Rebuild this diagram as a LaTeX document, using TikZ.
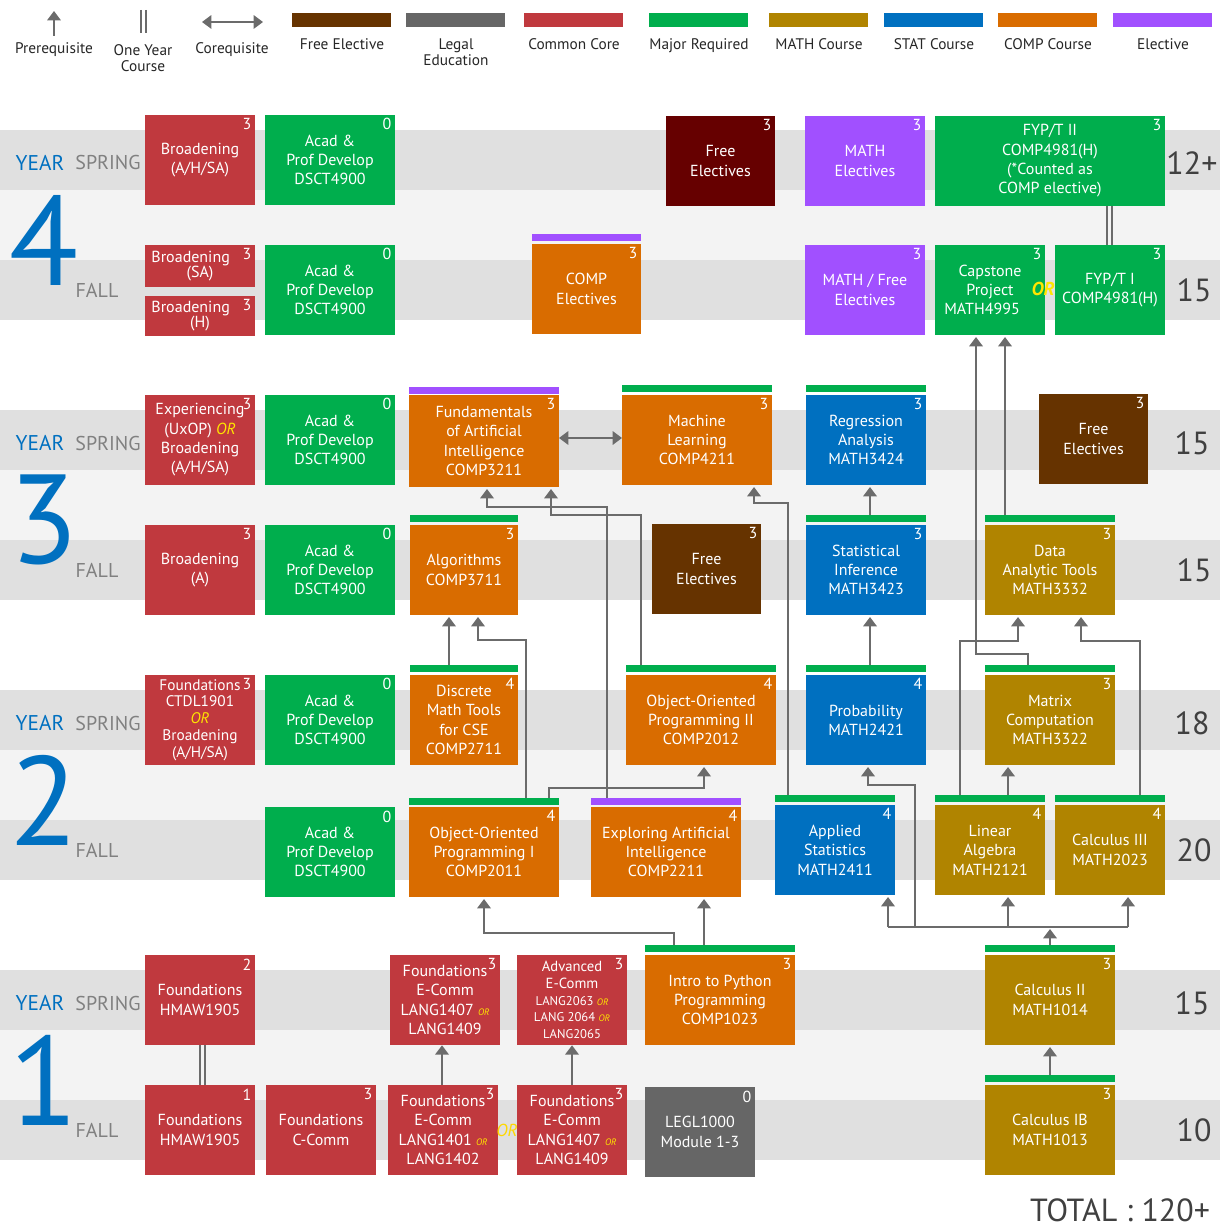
\documentclass[tikz,border=0pt]{standalone}
\usepackage{fontspec}
\setmainfont{PT Sans}
\usetikzlibrary{arrows.meta}
\definecolor{cred}{HTML}{C0393E}
\definecolor{cgreen}{HTML}{00AE4D}
\definecolor{corange}{HTML}{D96C00}
\definecolor{cblue}{HTML}{0070C0}
\definecolor{cgold}{HTML}{B08400}
\definecolor{cbrown}{HTML}{663300}
\definecolor{cdred}{HTML}{660000}
\definecolor{cpurple}{HTML}{A150FF}
\definecolor{cgray}{HTML}{666666}
\definecolor{cline}{HTML}{6B6B6B}
\definecolor{ory}{HTML}{FFE600}
\definecolor{bglight}{HTML}{F3F3F3}
\definecolor{bgdark}{HTML}{E0E0E0}
\newcommand\orr{{\color{ory}\itshape OR}}
\newcommand\sor{{\color{ory}\itshape\fontsize{7}{8}\selectfont OR}}
\newcommand\bx[8]{%
 \node[box,fill=#6,minimum width={(#4-#2)*0.75pt},minimum height={(#5-#3)*0.75pt},fnt #1/.try] (#1) at ({(#2+#4)/2},{(#3+#5)/2}) {#8};
 \node[num] (#1n) at (#4,#3) {#7};}
\newcommand\tbar[4]{\fill[#4] (#1,#3) rectangle (#2,{#3+7});}
\tikzset{
 box/.style={inner sep=0pt,text=white,align=center,font=\fontsize{12}{14.5}\selectfont},
 fnt fc/.style={font=\fontsize{11.5}{12.6}\selectfont},
 fnt adv/.style={font=\fontsize{11}{12.6}\selectfont},
 num/.style={anchor=north east,inner sep=2.5pt,text=white,font=\fontsize{12}{12}\selectfont},
 pre/.style={draw=cline,line width=2pt,-{Triangle[width=10pt,length=7pt]}},
 co/.style={draw=cline,line width=2pt,{Triangle[width=10pt,length=7pt]}-{Triangle[width=10pt,length=7pt]}},
 ln/.style={draw=cline,line width=2pt},
 leg/.style={font=\fontsize{11.5}{14}\selectfont,text=black!85,align=center},
 yr/.style={text=cblue,font=\fontsize{16}{16}\selectfont},
 sem/.style={text=black!50,font=\fontsize{15}{15}\selectfont},
 dig/.style={text=cblue,font=\fontsize{95}{95}\selectfont},
 tot/.style={text=black!75,font=\fontsize{24}{24}\selectfont},
}
\begin{document}
\begin{tikzpicture}[x=0.75pt,y=-0.75pt]
\useasboundingbox (0,0) rectangle (1220,1230);
% background bands
\foreach \t/\d/\a/\b in {130/4/12+/15,410/3/15/15,690/2/18/20,970/1/15/10}{
 \fill[bglight] (0,\t) rectangle (1220,{\t+190});
 \fill[bgdark] (0,\t) rectangle (1220,{\t+60});
 \fill[bgdark] (0,{\t+130}) rectangle (1220,{\t+190});
 \node[yr] at (40,{\t+33}) {YEAR};
 \node[sem] at (108,{\t+33}) {SPRING};
 \node[sem] at (97,{\t+160}) {FALL};
 \node[dig] at (44,{\t+110}) {\d};
 \node[tot] at (1192,{\t+33}) {\a};
 \node[tot] at (1194,{\t+160}) {\b};
}
\node[tot] (total) at (1120,1210) {TOTAL : 120+};
% legend
\coordinate (lp1) at (54,36); \coordinate (lp2) at (54,11);
\draw[pre,line width=1.5pt] (lp1) -- (lp2);
\node[leg] (l1) at (54,50) {Prerequisite};
\draw[cline,line width=1.5pt] (141,10) -- (141,33) (146,10) -- (146,33);
\node[leg] (l2) at (143,58) {One Year\\[-2pt]Course};
\coordinate (lc1) at (202,22); \coordinate (lc2) at (263,22);
\draw[co,line width=1.5pt] (lc1) -- (lc2);
\node[leg] (l3) at (232,50) {Corequisite};
\foreach \x/\c/\t in {292/cbrown/Free Elective,406/cgray/{Legal\\[-2pt]Education},524/cred/Common Core,649/cgreen/Major Required,769/cgold/MATH Course,884/cblue/STAT Course,998/corange/COMP Course,1113/cpurple/Elective}{
 \fill[\c] (\x,13) rectangle ({\x+99},27);
 \node[leg,anchor=north] at ({\x+50},34) {\t};
}
% Year 4
\bx{b4s}{145}{115}{255}{205}{cred}{3}{Broadening\\(A/H/SA)}
\bx{a4s}{265}{115}{395}{205}{cgreen}{0}{Acad \&\\Prof Develop\\DSCT4900}
\bx{fe4}{666}{116}{775}{206}{cdred}{3}{Free\\Electives}
\bx{me4}{805}{116}{925}{206}{cpurple}{3}{MATH\\Electives}
\bx{fyp2}{935}{116}{1165}{206}{cgreen}{3}{FYP/T II\\COMP4981(H)\\(*Counted as\\COMP elective)}
\bx{bsa}{145}{245}{255}{287}{cred}{3}{\hspace*{-14pt}Broadening\\[-3pt](SA)}
\bx{bh}{145}{296}{255}{336}{cred}{3}{\hspace*{-14pt}Broadening\\[-3pt](H)}
\bx{a4f}{265}{245}{395}{335}{cgreen}{0}{Acad \&\\Prof Develop\\DSCT4900}
\tbar{532}{641}{234}{cpurple}
\bx{ce}{532}{244}{641}{334}{corange}{3}{COMP\\Electives}
\bx{mf}{805}{245}{925}{335}{cpurple}{3}{MATH / Free\\Electives}
\bx{cap}{935}{245}{1045}{335}{cgreen}{3}{Capstone\\Project\\MATH4995\hspace*{12pt}}
\bx{fyp1}{1055}{245}{1165}{335}{cgreen}{3}{FYP/T I\\COMP4981(H)}
\node[text=ory,font=\fontsize{14}{14}\selectfont\itshape\bfseries] (orcap) at (1043,289) {OR};
% Year 3
\bx{exp}{145}{395}{255}{485}{cred}{3}{Experiencing\\(UxOP) \orr\\Broadening\\(A/H/SA)}
\bx{a3s}{265}{395}{395}{485}{cgreen}{0}{Acad \&\\Prof Develop\\DSCT4900}
\tbar{409}{559}{387}{cpurple}
\bx{fai}{409}{395}{559}{487}{corange}{3}{Fundamentals\\of Artificial\\Intelligence\\COMP3211}
\tbar{622}{772}{385}{cgreen}
\bx{ml}{622}{395}{772}{485}{corange}{3}{Machine\\Learning\\COMP4211}
\tbar{806}{926}{385}{cgreen}
\bx{reg}{806}{395}{926}{485}{cblue}{3}{Regression\\Analysis\\MATH3424}
\bx{fe3}{1039}{394}{1148}{484}{cbrown}{3}{Free\\Electives}
\bx{ba}{145}{525}{255}{615}{cred}{3}{Broadening\\(A)}
\bx{a3f}{265}{525}{395}{615}{cgreen}{0}{Acad \&\\Prof Develop\\DSCT4900}
\tbar{410}{518}{515}{cgreen}
\bx{alg}{410}{525}{518}{615}{corange}{3}{Algorithms\\COMP3711}
\bx{fe3f}{652}{524}{761}{614}{cbrown}{3}{Free\\Electives}
\tbar{806}{926}{515}{cgreen}
\bx{si}{806}{525}{926}{615}{cblue}{3}{Statistical\\Inference\\MATH3423}
\tbar{985}{1115}{515}{cgreen}
\bx{dat}{985}{525}{1115}{615}{cgold}{3}{Data\\Analytic Tools\\MATH3332}
% Year 2
\bx{fc}{145}{675}{255}{765}{cred}{3}{Foundations\\CTDL1901\\\orr\\Broadening\\(A/H/SA)}
\bx{a2s}{265}{675}{395}{765}{cgreen}{0}{Acad \&\\Prof Develop\\DSCT4900}
\tbar{410}{518}{665}{cgreen}
\bx{dm}{410}{675}{518}{765}{corange}{4}{Discrete\\Math Tools\\for CSE\\COMP2711}
\tbar{626}{776}{665}{cgreen}
\bx{oop2}{626}{675}{776}{765}{corange}{4}{Object-Oriented\\Programming II\\COMP2012}
\tbar{806}{926}{665}{cgreen}
\bx{prob}{806}{675}{926}{765}{cblue}{4}{Probability\\MATH2421}
\tbar{985}{1115}{665}{cgreen}
\bx{mat}{985}{675}{1115}{765}{cgold}{3}{Matrix\\Computation\\MATH3322}
\bx{a2f}{265}{807}{395}{897}{cgreen}{0}{Acad \&\\Prof Develop\\DSCT4900}
\tbar{409}{559}{798}{cgreen}
\bx{oop1}{409}{807}{559}{897}{corange}{4}{Object-Oriented\\Programming I\\COMP2011}
\tbar{591}{741}{798}{cpurple}
\bx{eai}{591}{807}{741}{897}{corange}{4}{Exploring Artificial\\Intelligence\\COMP2211}
\tbar{775}{895}{795}{cgreen}
\bx{as}{775}{805}{895}{895}{cblue}{4}{Applied\\Statistics\\MATH2411}
\tbar{935}{1045}{795}{cgreen}
\bx{la}{935}{805}{1045}{895}{cgold}{4}{Linear\\Algebra\\MATH2121}
\tbar{1055}{1165}{795}{cgreen}
\bx{c3}{1055}{805}{1165}{895}{cgold}{4}{Calculus III\\MATH2023}
% Year 1
\bx{h1s}{145}{955}{255}{1045}{cred}{2}{Foundations\\HMAW1905}
\bx{ec1}{390}{955}{500}{1045}{cred}{3}{Foundations\\E-Comm\\LANG1407 \sor\\LANG1409}
\bx{adv}{517}{955}{627}{1045}{cred}{3}{Advanced\\E-Comm\\{\fontsize{9.5}{11}\selectfont LANG2063 \sor}\\{\fontsize{9.5}{11}\selectfont LANG 2064 \sor}\\{\fontsize{9.5}{11}\selectfont LANG2065}}
\tbar{645}{795}{945}{cgreen}
\bx{py}{645}{955}{795}{1045}{corange}{3}{Intro to Python\\Programming\\COMP1023}
\tbar{985}{1115}{945}{cgreen}
\bx{c2}{985}{955}{1115}{1045}{cgold}{3}{Calculus II\\MATH1014}
\bx{h1f}{145}{1085}{255}{1175}{cred}{1}{Foundations\\HMAW1905}
\bx{cc}{266}{1085}{376}{1175}{cred}{3}{Foundations\\C-Comm}
\bx{ec2}{388}{1085}{498}{1175}{cred}{3}{Foundations\\E-Comm\\LANG1401 \sor\\LANG1402}
\bx{ec3}{517}{1085}{627}{1175}{cred}{3}{Foundations\\E-Comm\\LANG1407 \sor\\LANG1409}
\node[text=ory!85!orange,font=\fontsize{13}{13}\selectfont\itshape] (orf) at (507,1130) {OR};
\bx{legl}{645}{1087}{755}{1177}{cgray}{0}{LEGL1000\\Module 1-3}
\tbar{985}{1115}{1075}{cgreen}
\bx{cib}{985}{1085}{1115}{1175}{cgold}{3}{Calculus IB\\MATH1013}
% connectors
\draw[co] (559,438) -- (622,438);
\draw[pre] (607,798) |- (487,507) -- (487,489);
\draw[pre] (641,665) |- (551,515) -- (551,489);
\draw[pre] (449,665) -- (449,617);
\draw[pre] (526,798) |- (478,640) -- (478,617);
\draw[pre] (549,798) |- (704,788) -- (704,767);
\draw[pre] (674,945) |- (484,933) -- (484,899);
\draw[pre] (704,945) -- (704,899);
\draw[pre] (788,795) |- (754,503) -- (754,487);
\draw[pre] (870,515) -- (870,487);
\draw[pre] (870,665) -- (870,617);
\draw[pre] (1050,945) -- (1050,929);
\draw[ln] (888,927) -- (1128,927);
\draw[pre] (888,927) -- (888,897);
\draw[pre] (1008,927) -- (1008,897);
\draw[pre] (1128,927) -- (1128,897);
\draw[pre] (915,927) |- (868,785) -- (868,767);
\draw[pre] (1008,795) -- (1008,767);
\draw[pre] (960,795) |- (1018,641) -- (1018,617);
\draw[pre] (1140,795) |- (1081,641) -- (1081,617);
\draw[pre] (1028,665) |- (976,654) -- (976,337);
\draw[pre] (1005,515) -- (1005,337);
\draw[pre] (1050,1075) -- (1050,1047);
\draw[pre] (ec2.north -| 442,0) -- (ec1.south -| 442,0);
\draw[pre] (ec3.north -| 572,0) -- (adv.south -| 572,0);
\draw[cline,line width=1.5pt] (h1s.south -| 200,0) -- (h1f.north -| 200,0) (h1s.south -| 205,0) -- (h1f.north -| 205,0);
\draw[cline,line width=1.5pt] (fyp2.south -| 1107,0) -- (fyp1.north -| 1107,0) (fyp2.south -| 1112,0) -- (fyp1.north -| 1112,0);
\end{tikzpicture}
\end{document}
